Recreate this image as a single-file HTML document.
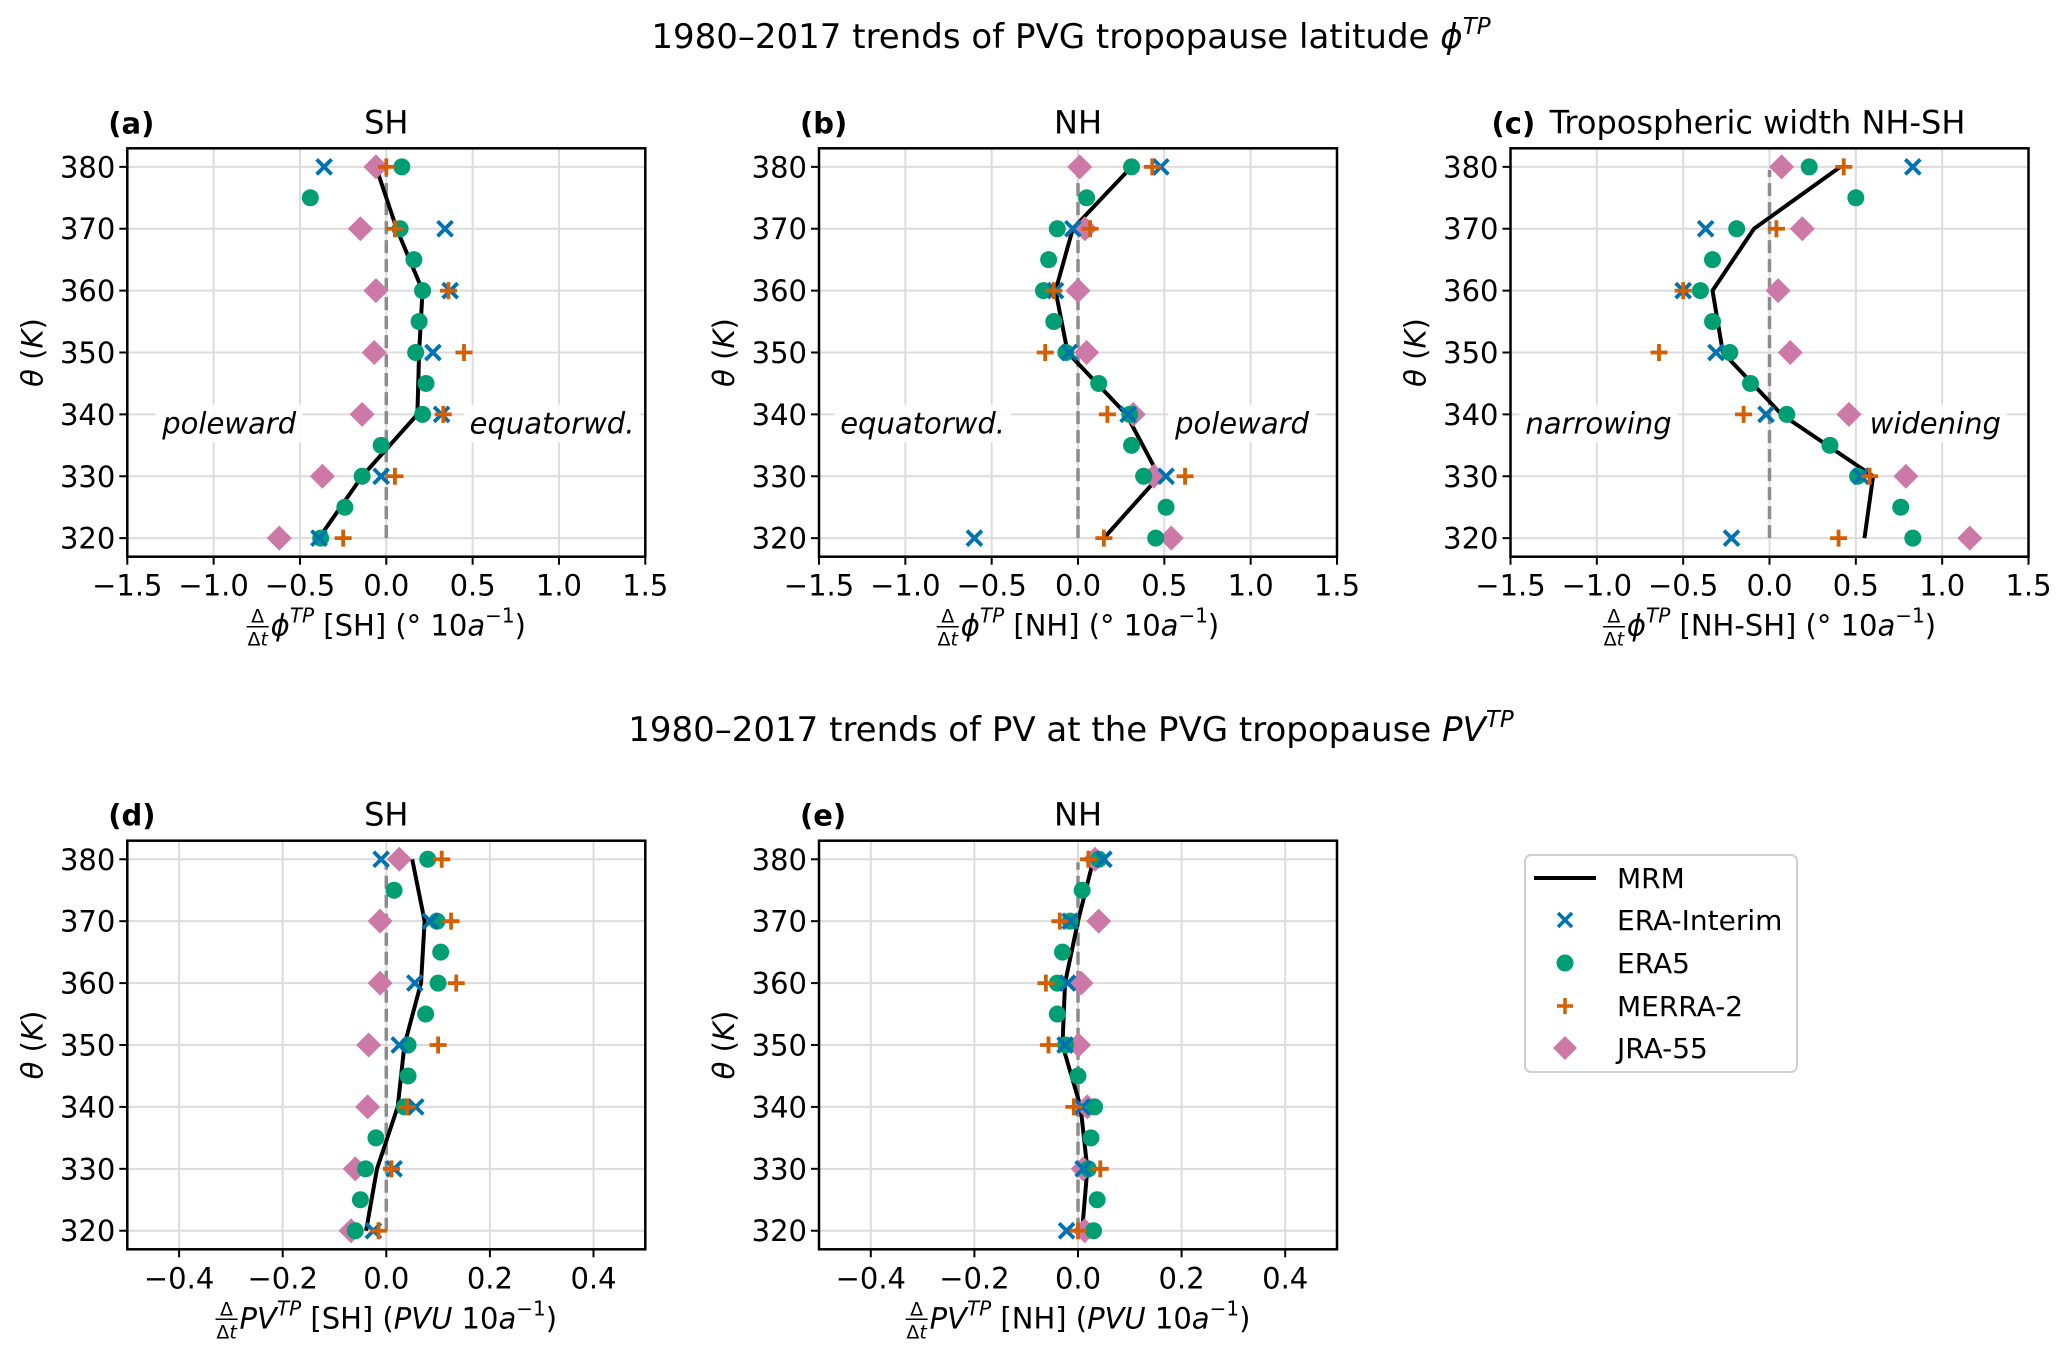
<!DOCTYPE html>
<html><head><meta charset="utf-8"><style>
html,body{margin:0;padding:0;background:#fff;}
svg{display:block;font-family:"DejaVu Sans","Liberation Sans",sans-serif;}
</style></head><body>
<svg id="fig" width="2067" height="1359" viewBox="0 0 2067 1359" xmlns="http://www.w3.org/2000/svg">
<rect width="2067" height="1359" fill="#fff"/>
<text x="1071" y="48" font-size="34" text-anchor="middle">1980–2017 trends of PVG tropopause latitude <tspan font-style="italic">ϕ</tspan><tspan font-style="italic" font-size="23" dy="-14">TP</tspan></text>
<text x="1071" y="741" font-size="34" text-anchor="middle">1980–2017 trends of PV at the PVG tropopause <tspan font-style="italic">PV</tspan><tspan font-style="italic" font-size="23" dy="-14">TP</tspan></text>
<g id="legend">
<rect x="1525" y="855" width="272" height="217" rx="6" fill="#fff" stroke="#d0d0d0" stroke-width="2"/>
<line x1="1534" y1="878" x2="1596" y2="878" stroke="#000" stroke-width="4"/>
<text x="1617" y="888" font-size="28">MRM</text>
<g stroke="#0072B2" stroke-width="3.5"><line x1="1558" y1="913" x2="1572" y2="927"/><line x1="1558" y1="927" x2="1572" y2="913"/></g>
<text x="1617" y="930" font-size="28">ERA-Interim</text>
<circle cx="1565" cy="963" r="8.5" fill="#009E73"/>
<text x="1617" y="973" font-size="28">ERA5</text>
<g stroke="#D55E00" stroke-width="3.5"><line x1="1557" y1="1006" x2="1573" y2="1006"/><line x1="1565" y1="998" x2="1565" y2="1014"/></g>
<text x="1617" y="1016" font-size="28">MERRA-2</text>
<polygon points="1565,1036 1577,1048 1565,1060 1553,1048" fill="#CC79A7"/>
<text x="1617" y="1058" font-size="28">JRA-55</text>
</g>
</svg>
<script>
// ---- data ----
const levels10 = [320,330,340,350,360,370,380];
const levels5 = [320,325,330,335,340,345,350,355,360,365,370,375,380];
// panel a (SH latitude)
const aMRM = [-0.39,-0.14,0.18,0.19,0.21,0.06,-0.06];
const aERAI = [-0.39,-0.03,0.32,0.27,0.37,0.34,-0.36];
const aERA5 = [-0.38,-0.24,-0.14,-0.03,0.21,0.23,0.17,0.19,0.21,0.16,0.08,-0.44,0.09];
const aMERRA = [-0.25,0.05,0.33,0.45,0.36,0.05,0.0];
const aJRA = [-0.62,-0.37,-0.14,-0.07,-0.06,-0.15,-0.06];
// panel b (NH latitude)
const bMRM = [0.15,0.47,0.28,-0.06,-0.13,-0.03,0.31];
const bERAI = [-0.60,0.51,0.29,-0.05,-0.13,-0.03,0.48];
const bERA5 = [0.45,0.51,0.38,0.31,0.30,0.12,-0.07,-0.14,-0.20,-0.17,-0.12,0.05,0.31];
const bMERRA = [0.15,0.62,0.17,-0.19,-0.14,0.07,0.43];
const bJRA = [0.54,0.44,0.32,0.05,0.0,0.04,0.01];
// panel c (NH-SH width)
const cMRM = [0.55,0.60,0.07,-0.27,-0.33,-0.09,0.41];
const cERAI = [-0.22,0.53,-0.02,-0.31,-0.50,-0.37,0.83];
const cERA5 = [0.83,0.76,0.51,0.35,0.10,-0.11,-0.23,-0.33,-0.40,-0.33,-0.19,0.50,0.23];
const cMERRA = [0.40,0.58,-0.15,-0.64,-0.50,0.04,0.43];
const cJRA = [1.16,0.79,0.46,0.12,0.05,0.19,0.07];
// panel d (SH PV)
const dMRM = [-0.039,-0.018,0.022,0.035,0.067,0.074,0.05];
const dERAI = [-0.025,0.015,0.057,0.025,0.055,0.085,-0.01];
const dERA5 = [-0.06,-0.05,-0.04,-0.02,0.035,0.042,0.042,0.076,0.10,0.105,0.098,0.015,0.08];
const dMERRA = [-0.015,0.01,0.04,0.10,0.135,0.125,0.107];
const dJRA = [-0.068,-0.06,-0.036,-0.034,-0.012,-0.012,0.025];
// panel e (NH PV)
const eMRM = [0.008,0.018,0.005,-0.03,-0.025,0.0,0.03];
const eERAI = [-0.022,0.01,0.008,-0.025,-0.02,-0.015,0.05];
const eERA5 = [0.03,0.037,0.02,0.025,0.032,0.0,-0.024,-0.04,-0.04,-0.03,-0.015,0.008,0.04];
const eMERRA = [0.0,0.043,-0.008,-0.057,-0.062,-0.035,0.02];
const eJRA = [0.013,0.01,0.018,0.001,0.006,0.04,0.033];
const latTicks = [-1.5,-1.0,-0.5,0.0,0.5,1.0,1.5];
const latTickLabels = ["−1.5","−1.0","−0.5","0.0","0.5","1.0","1.5"];
const pvTicks = [-0.4,-0.2,0.0,0.2,0.4];
const pvTickLabels = ["−0.4","−0.2","0.0","0.2","0.4"];
const yTicks = [320,330,340,350,360,370,380];

const NS = "http://www.w3.org/2000/svg";
const svg = document.getElementById("fig");
const legend = document.getElementById("legend");
function mk(tag, attrs, parent){
  const e = document.createElementNS(NS, tag);
  for (const k in attrs) e.setAttribute(k, attrs[k]);
  (parent||svg).insertBefore(e, parent?null:legend);
  return e;
}

const panels = [
  {id:"a", left:127.3, top:148.3, bottom:556.7, xmin:-1.5, xmax:1.5, ticks:latTicks, tl:latTickLabels, title:"SH",
   mrm:aMRM, erai:aERAI, era5:aERA5, merra:aMERRA, jra:aJRA, xl:["ϕ","[SH] (° 10",""],
   ann:[["poleward",-0.91],["equatorwd.",0.96]]},
  {id:"b", left:819, top:148.3, bottom:556.7, xmin:-1.5, xmax:1.5, ticks:latTicks, tl:latTickLabels, title:"NH",
   mrm:bMRM, erai:bERAI, era5:bERA5, merra:bMERRA, jra:bJRA, xl:["ϕ","[NH] (° 10",""],
   ann:[["equatorwd.",-0.90],["poleward",0.95]]},
  {id:"c", left:1510.5, top:148.3, bottom:556.7, xmin:-1.5, xmax:1.5, ticks:latTicks, tl:latTickLabels, title:"Tropospheric width NH-SH",
   mrm:cMRM, erai:cERAI, era5:cERA5, merra:cMERRA, jra:cJRA, xl:["ϕ","[NH-SH] (° 10",""],
   ann:[["narrowing",-0.99],["widening",0.96]]},
  {id:"d", left:127.3, top:840.7, bottom:1249.3, xmin:-0.5, xmax:0.5, ticks:pvTicks, tl:pvTickLabels, title:"SH",
   mrm:dMRM, erai:dERAI, era5:dERA5, merra:dMERRA, jra:dJRA, xl:["PV","[SH] (","PVU"], ann:[]},
  {id:"e", left:819, top:840.7, bottom:1249.3, xmin:-0.5, xmax:0.5, ticks:pvTicks, tl:pvTickLabels, title:"NH",
   mrm:eMRM, erai:eERAI, era5:eERA5, merra:eMERRA, jra:eJRA, xl:["PV","[NH] (","PVU"], ann:[]}
];
const W = 518, YMIN = 317, YMAX = 383;

panels.forEach(p => {
  const g = mk("g", {});
  
  
  const sx = v => p.left + (v - p.xmin) / (p.xmax - p.xmin) * W;
  const sy = v => p.bottom - (v - YMIN) / (YMAX - YMIN) * (p.bottom - p.top);
  p.ticks.forEach(t => {
    const l = mk("line", {x1:sx(t), x2:sx(t), y1:p.top, y2:p.bottom, stroke:"#dcdcdc", "stroke-width":2}, g);
    
    
  });
  yTicks.forEach(t => {
    const l = mk("line", {x1:p.left, x2:p.left+W, y1:sy(t), y2:sy(t), stroke:"#dcdcdc", "stroke-width":2}, g);
    
    
  });
  p.ann.forEach(a => {
    const t = mk("text", {x:sx(a[1]), y:sy(336.9), "font-size":29, "font-style":"italic", "text-anchor":"middle"}, g);
    t.textContent = a[0];
    
    
    const bb = t.getBBox();
    const r = mk("rect", {x:bb.x-6, y:bb.y-2, width:bb.width+12, height:bb.height+4, fill:"#fff", opacity:0.85}, g);
    g.insertBefore(r, t);
    
    
  });
  const z = mk("line", {x1:sx(0), x2:sx(0), y1:sy(320), y2:sy(379.5), stroke:"#8c8c8c", "stroke-width":3.5, "stroke-dasharray":"13,6"}, g);
  
  
  const pts = levels10.map((lv,i) => sx(p.mrm[i]) + "," + sy(lv)).join(" ");
  const pl = mk("polyline", {points:pts, fill:"none", stroke:"#000", "stroke-width":4, "stroke-linejoin":"round"}, g);
  
  
  levels10.forEach((lv,i) => {
    const x = sx(p.jra[i]), y = sy(lv);
    const d = mk("polygon", {points:`${x},${y-12.5} ${x+12.5},${y} ${x},${y+12.5} ${x-12.5},${y}`, fill:"#CC79A7"}, g);
    
    
  });
  levels5.forEach((lv,i) => {
    const c = mk("circle", {cx:sx(p.era5[i]), cy:sy(lv), r:8.5, fill:"#009E73"}, g);
    
    
  });
  levels10.forEach((lv,i) => {
    const x = sx(p.erai[i]), y = sy(lv);
    const m = mk("path", {d:`M${x-7.5},${y-7.5}L${x+7.5},${y+7.5}M${x-7.5},${y+7.5}L${x+7.5},${y-7.5}`, stroke:"#0072B2", "stroke-width":3.8, fill:"none"}, g);
    
    
  });
  levels10.forEach((lv,i) => {
    const x = sx(p.merra[i]), y = sy(lv);
    const m = mk("path", {d:`M${x-8.5},${y}L${x+8.5},${y}M${x},${y-8.5}L${x},${y+8.5}`, stroke:"#D55E00", "stroke-width":3.8, fill:"none"}, g);
    
    
  });
  const fr = mk("rect", {x:p.left, y:p.top, width:W, height:p.bottom-p.top, fill:"none", stroke:"#000", "stroke-width":2.5}, g);
  
  
  p.ticks.forEach((t,i) => {
    const tk = mk("line", {x1:sx(t), x2:sx(t), y1:p.bottom, y2:p.bottom+8, stroke:"#000", "stroke-width":2}, g);
    
    
    const tl = mk("text", {x:sx(t), y:p.bottom+39, "font-size":29, "text-anchor":"middle"}, g);
    tl.textContent = p.tl[i];
    
    
  });
  yTicks.forEach(t => {
    const tk = mk("line", {x1:p.left-8, x2:p.left, y1:sy(t), y2:sy(t), stroke:"#000", "stroke-width":2}, g);
    
    
    const tl = mk("text", {x:p.left-12, y:sy(t)+10.5, "font-size":29, "text-anchor":"end"}, g);
    tl.textContent = String(t);
    
    
  });
  const cy = (p.top + p.bottom) / 2, lx = p.left - 85;
  const yl = mk("text", {x:lx, y:cy, "font-size":29, "text-anchor":"middle", transform:`rotate(-90 ${lx} ${cy})`}, g);
  yl.innerHTML = '<tspan font-style="italic">θ</tspan> (<tspan font-style="italic">K</tspan>)';
  
  
  const base = p.top - 15;
  const lab = mk("text", {x:p.left - 19, y:base, "font-size":29, "font-weight":"bold"}, g);
  lab.textContent = "(" + p.id + ")";
  
  
  const tx = p.id === "c" ? p.left + W/2 - 12 : p.left + W/2;
  const tt = mk("text", {x:tx, y:base, "font-size":32, "text-anchor":"middle"}, g);
  tt.textContent = p.title;
  
  
  const xg = mk("g", {}, g);
  
  
  const by = p.bottom + 79;
  const main = mk("text", {x:0, y:by, "font-size":29}, xg);
  if (p.xl[2] === "") {
    main.innerHTML = `<tspan font-style="italic">${p.xl[0]}</tspan><tspan font-style="italic" font-size="20" dy="-13">TP</tspan><tspan dy="13"> ${p.xl[1]}</tspan><tspan font-style="italic">a</tspan><tspan font-size="20" dy="-13">−1</tspan><tspan dy="13">)</tspan>`;
  } else {
    main.innerHTML = `<tspan font-style="italic">${p.xl[0]}</tspan><tspan font-style="italic" font-size="20" dy="-13">TP</tspan><tspan dy="13"> ${p.xl[1]}</tspan><tspan font-style="italic">PVU</tspan> 10<tspan font-style="italic">a</tspan><tspan font-size="20" dy="-13">−1</tspan><tspan dy="13">)</tspan>`;
  }
  const fw = 24;
  const mw = main.getComputedTextLength();
  const start = p.left + W/2 - (fw + mw) / 2;
  main.setAttribute("x", start + fw);
  const n = mk("text", {x:start + fw/2 - 1, y:by - 13, "font-size":19, "text-anchor":"middle"}, xg);
  n.textContent = "Δ";
  mk("line", {x1:start, x2:start + fw - 2, y1:by - 9, y2:by - 9, stroke:"#000", "stroke-width":1.5}, xg);
  const dd = mk("text", {x:start + fw/2 - 1, y:by + 10, "font-size":19, "text-anchor":"middle"}, xg);
  dd.innerHTML = 'Δ<tspan font-style="italic">t</tspan>';
});
</script>
</body></html>
